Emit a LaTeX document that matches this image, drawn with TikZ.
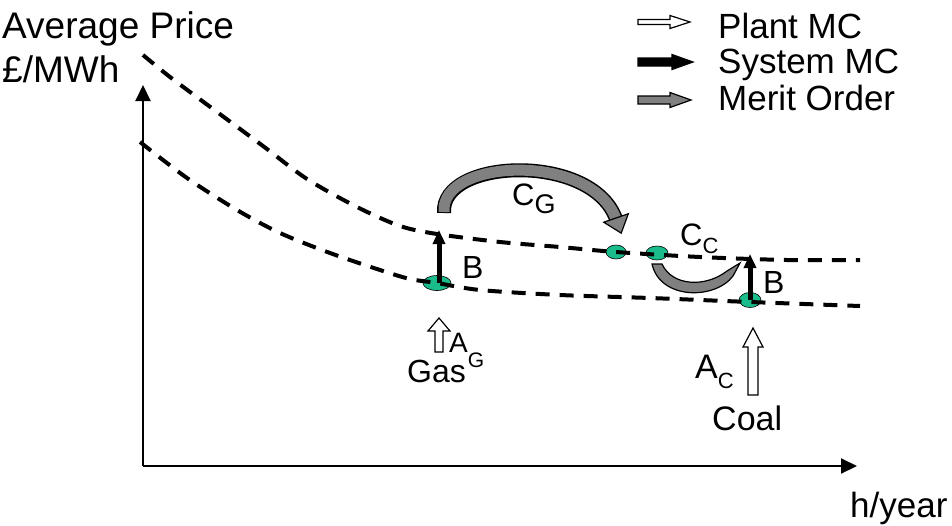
\documentclass[tikz,border=0pt]{standalone}
\usepackage{fontspec}
\setmainfont{Liberation Sans}
\usetikzlibrary{arrows.meta}
\definecolor{dotgreen}{RGB}{26,188,140}
\definecolor{merit}{RGB}{128,128,128}
\newcommand\fs[1]{\fontsize{#1}{#1}\selectfont}
% #1 style, #2 origin, #3 angle, #4 length, #5 half shaft, #6 half head, #7 head length
\newcommand\blockarr[7]{\begin{scope}[shift={#2},rotate=#3]
\draw[#1] (0,-#5) -- ({#4-#7},-#5) -- ({#4-#7},-#6) -- (#4,0) -- ({#4-#7},#6) -- ({#4-#7},#5) -- (0,#5) -- cycle;
\end{scope}}
\tikzset{
  lbl/.style={anchor=base west,inner sep=0pt,font=\fs{35}},
  curve/.style={line width=4pt,dash pattern=on 14pt off 10pt},
  axis/.style={line width=2pt,-{Triangle[width=15pt,length=16pt]}},
  sysmc/.style={line width=5pt,-{Triangle[width=12pt,length=14pt]}},
  dot/.style={fill=dotgreen,draw=black,line width=0.6pt},
}
\begin{document}
\begin{tikzpicture}[x=1pt,y=-1pt]
\useasboundingbox (0,0) rectangle (952,525);
% axes
\coordinate (O) at (143,466);
\coordinate (ytop) at (143,85);
\coordinate (xend) at (857,466);
\draw[axis] (O) -- (ytop);
\draw[axis] (O) -- (xend);
% labels
\node[lbl,font=\fs{37}] (ylab1) at (2,38) {Average Price};
\node[lbl,font=\fs{37}] (ylab2) at (2,82) {£/MWh};
\node[lbl] (xlab) at (850,517) {h/year};
% dots
\filldraw[dot] (437,283) ellipse [x radius=14, y radius=7.5];
\filldraw[dot] (616,252) ellipse [x radius=10, y radius=7];
\filldraw[dot] (657,253) ellipse [x radius=11, y radius=7];
\filldraw[dot] (750,300) ellipse [x radius=11, y radius=7.5];
% curves
\draw[curve] plot[smooth] coordinates {(143,55) (170,77) (213,109) (263,146) (307,179) (357,207) (400,226) (437,234) (500,242) (560,247) (616,252) (700,257) (787,260) (860,260)};
\draw[curve] plot[smooth] coordinates {(140,142) (187,178) (237,210) (280,233) (330,253) (380,270) (410,279) (437,283) (480,290) (560,295) (650,298) (750,302) (860,306)};
% system MC arrows
\draw[sysmc] (439,283) -- (439,230);
\draw[sysmc] (750,300) -- (750,254);
\node[lbl,font=\fs{32}] (Bg) at (462,278) {B};
\node[lbl,font=\fs{32}] (Bc) at (763,293) {B};
% merit order arrow C_G
\draw[line width=14pt,line cap=butt] (444,213) .. controls (440,158) and (592,152) .. (616,219);
\draw[merit,line width=11pt,line cap=butt] (444,212) .. controls (440,158) and (592,152) .. (616,219);
\begin{scope}[shift={(616,218)},rotate=-71]
\draw[fill=merit,draw=black,line width=1.2pt] (0,-13) -- (16,0) -- (0,13) -- cycle;
\end{scope}
\node[lbl,font=\fs{31}] (CG) at (512,205) {C\raisebox{-8pt}{\fs{27}G}};
% merit order arrow C_C
\draw[fill=merit,draw=black,line width=1.2pt] (652,264) .. controls (660,300) and (715,300) .. (733,276) -- (740,263) -- (727,271) .. controls (705,288) and (672,286) .. (662,264) -- cycle;
\node[lbl,font=\fs{31}] (CC) at (680,245) {C\raisebox{-8pt}{\fs{22}C}};
% plant MC arrows
\blockarr{fill=white,draw=black,line width=1.2pt}{(439,352)}{90}{34}{4}{11}{13}
\blockarr{fill=white,draw=black,line width=1.2pt}{(753,395)}{90}{67}{5}{10}{19}
\node[lbl,font=\fs{28}] (AG) at (449,352) {A\raisebox{-15pt}{\fs{21}G}};
\node[lbl,font=\fs{32}] (gas) at (407,382) {Gas};
\node[lbl,font=\fs{34}] (AC) at (695,378) {A\raisebox{-10pt}{\fs{22}C}};
\node[lbl,font=\fs{34}] (coal) at (712,430) {Coal};
% legend
\blockarr{fill=white,draw=black,line width=1.2pt}{(638,22)}{0}{52}{2.5}{6.5}{20}
\blockarr{fill=black,draw=black,line width=1.2pt}{(638,62)}{0}{55}{4}{7.5}{21}
\blockarr{fill=merit,draw=black,line width=1.2pt}{(638,100)}{0}{53}{4}{7.5}{21}
\node[lbl] (leg1) at (718,38) {Plant MC};
\node[lbl] (leg2) at (718,73) {System MC};
\node[lbl] (leg3) at (718,110) {Merit Order};
\end{tikzpicture}
\end{document}
